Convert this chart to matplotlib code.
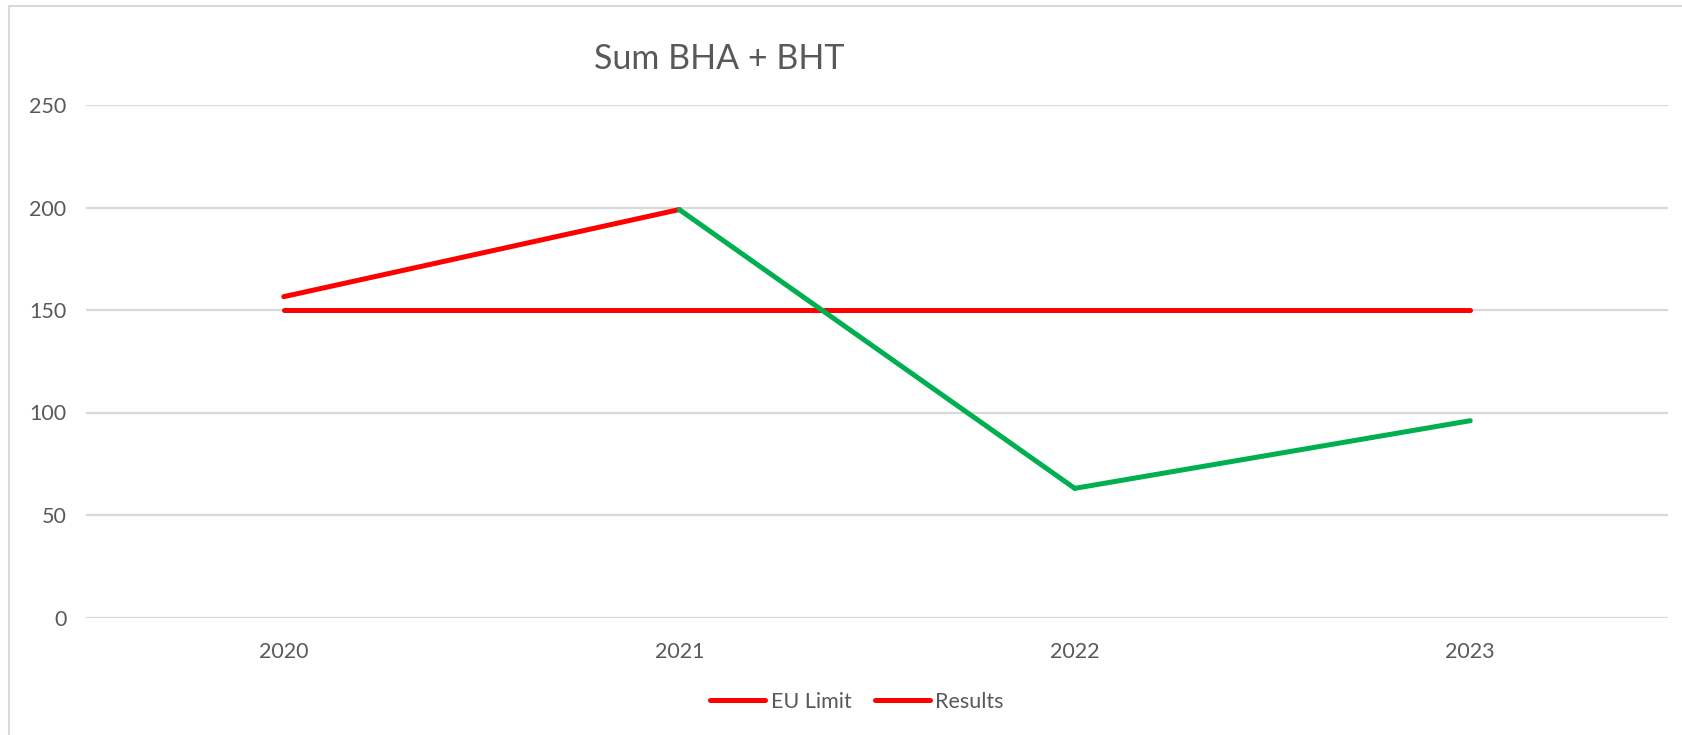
import matplotlib
matplotlib.use("Agg")
import matplotlib.pyplot as plt
from matplotlib.lines import Line2D

years = ["2020", "2021", "2022", "2023"]
eu_limit = [150, 150, 150, 150]
results = [156.5, 199, 63, 96]
# per-segment colour of the Results line (segment i goes from point i to i+1)
result_segment_colors = ["#FF0000", "#00B050", "#00B050"]
yticks = [0, 50, 100, 150, 200, 250]
title = "Sum BHA + BHT"

plt.rcParams['font.family'] = ['Lato', 'DejaVu Sans']
TXT = "#595959"
GRID = "#D9D9D9"
RED = "#FF0000"
LW = 3.6

W, H = 1682, 735
fig = plt.figure(figsize=(W / 100, H / 100), dpi=100)
fig.patch.set_facecolor("white")

# chart-area border (top and left visible)
fig.add_artist(Line2D([9 / W, 1.0], [1 - 6 / H, 1 - 6 / H], color=GRID, lw=1.5, transform=fig.transFigure))
fig.add_artist(Line2D([9 / W, 9 / W], [0, 1 - 6 / H], color=GRID, lw=1.5, transform=fig.transFigure))

left, right = 86 / W, 1668 / W
bottom, top = (H - 617.5) / H, (H - 105) / H
ax = fig.add_axes([left, bottom, right - left, top - bottom])

x = list(range(len(years)))
ax.plot(x, eu_limit, color=RED, lw=LW, solid_capstyle="round", zorder=3)
for i, c in enumerate(result_segment_colors):
    ax.plot(x[i:i + 2], results[i:i + 2], color=c, lw=LW,
            solid_capstyle="round", solid_joinstyle="round", zorder=4)

ax.set_xlim(-0.5, len(years) - 0.5)
ax.set_ylim(yticks[0], yticks[-1])
ax.set_yticks(yticks)
ax.set_xticks(x)
ax.set_xticklabels(years)
ax.grid(axis="y", color=GRID, lw=1.6)
ax.set_axisbelow(True)
for s in ax.spines.values():
    s.set_visible(False)
ax.tick_params(axis="y", length=0, pad=14, labelsize=15.5, labelcolor=TXT)
ax.tick_params(axis="x", length=0, pad=18, labelsize=15.5, labelcolor=TXT)

fig.text(719 / W, 1 - 59 / H, title, ha="center", va="center", fontsize=24.5, color=TXT)

handles = [Line2D([], [], color=RED, lw=LW, solid_capstyle="round"),
           Line2D([], [], color=RED, lw=LW, solid_capstyle="round")]
leg = fig.legend(handles, ["EU Limit", "Results"], loc="center",
                 bbox_to_anchor=(857 / W, 1 - 702 / H), ncol=2, frameon=False,
                 fontsize=15.5, handlelength=2.55, handletextpad=0.25,
                 columnspacing=1.1, borderaxespad=0)
for t in leg.get_texts():
    t.set_color(TXT)

fig.savefig("out.png", dpi=100, facecolor="white")
